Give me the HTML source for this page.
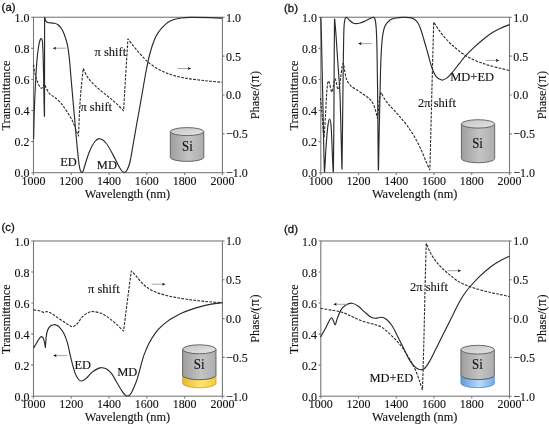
<!DOCTYPE html>
<html><head><meta charset="utf-8"><title>Transmittance and phase</title>
<style>
html,body{margin:0;padding:0;background:#fff;}
body{width:549px;height:425px;overflow:hidden;}
svg{display:block;}
.s{font-family:"Liberation Serif",serif;font-size:12.5px;fill:#111;stroke:#111;stroke-width:0.12;}
.t{font-family:"Liberation Serif",serif;font-size:12px;fill:#111;stroke:#111;stroke-width:0.12;}
.al{font-family:"Liberation Serif",serif;font-size:12.3px;fill:#111;stroke:#111;stroke-width:0.12;}
.p{font-family:"Liberation Sans",sans-serif;font-size:11.4px;fill:#111;stroke:#111;stroke-width:0.3;}
.ax{stroke:#787878;stroke-width:1.08;fill:none;}
.c{stroke:#2a2a2a;stroke-width:1.15;fill:none;stroke-linejoin:round;stroke-linecap:butt;}
.d{stroke:#2a2a2a;stroke-width:1.1;fill:none;stroke-dasharray:2.75 1.3;stroke-linejoin:round;}
.ar{stroke:#9a9a9a;stroke-width:0.9;fill:none;}
</style></head><body>
<svg width="549" height="425" viewBox="0 0 549 425">
<defs>
<linearGradient id="gb" x1="0" y1="0" x2="1" y2="0"><stop offset="0" stop-color="#9e9e9e"/><stop offset="0.55" stop-color="#c4c4c4"/><stop offset="1" stop-color="#adadad"/></linearGradient>
<linearGradient id="gt" x1="0" y1="0" x2="1" y2="1"><stop offset="0" stop-color="#c4c4c4"/><stop offset="1" stop-color="#e6e6e6"/></linearGradient>
<linearGradient id="gold" x1="0" y1="0" x2="1" y2="0"><stop offset="0" stop-color="#efb626"/><stop offset="0.55" stop-color="#ffe672"/><stop offset="1" stop-color="#f7c838"/></linearGradient>
<linearGradient id="blue" x1="0" y1="0" x2="1" y2="0"><stop offset="0" stop-color="#5c9be0"/><stop offset="0.55" stop-color="#bcdaf8"/><stop offset="1" stop-color="#70aae8"/></linearGradient>
</defs>
<rect width="549" height="425" fill="#fff"/>
<g id="panel-a" style="mix-blend-mode:multiply">
<path d="M170.30 131.60 L170.30 157.40 A16.75 4.00 0 0 0 203.80 157.40 L203.80 131.60 Z" fill="url(#gb)" stroke="#4c4c4c" stroke-width="0.8"/>
<ellipse cx="187.05" cy="131.60" rx="16.75" ry="4.00" fill="url(#gt)" stroke="#4c4c4c" stroke-width="0.8"/>
<text class="s" text-anchor="middle" style="font-size:13px" transform="translate(187.35 151.10) scale(1 1.070)">Si</text>
<rect class="ax" x="33.50" y="17.25" width="188.90" height="155.45"/>
<text class="t" text-anchor="middle" transform="translate(33.50 184.90) scale(1 1.070)">1000</text>
<text class="t" text-anchor="end" transform="translate(29.60 177.30) scale(1 1.070)">0.0</text>
<text class="t" text-anchor="middle" transform="translate(71.28 184.90) scale(1 1.070)">1200</text>
<text class="t" text-anchor="end" transform="translate(29.60 146.21) scale(1 1.070)">0.2</text>
<text class="t" text-anchor="middle" transform="translate(109.06 184.90) scale(1 1.070)">1400</text>
<text class="t" text-anchor="end" transform="translate(29.60 115.12) scale(1 1.070)">0.4</text>
<text class="t" text-anchor="middle" transform="translate(146.84 184.90) scale(1 1.070)">1600</text>
<text class="t" text-anchor="end" transform="translate(29.60 84.03) scale(1 1.070)">0.6</text>
<text class="t" text-anchor="middle" transform="translate(184.62 184.90) scale(1 1.070)">1800</text>
<text class="t" text-anchor="end" transform="translate(29.60 52.94) scale(1 1.070)">0.8</text>
<text class="t" text-anchor="middle" transform="translate(222.40 184.90) scale(1 1.070)">2000</text>
<text class="t" text-anchor="end" transform="translate(29.60 21.85) scale(1 1.070)">1.0</text>
<text class="t" transform="translate(226.10 177.10) scale(1 1.070)">−1.0</text>
<text class="t" transform="translate(226.10 138.24) scale(1 1.070)">−0.5</text>
<text class="t" transform="translate(226.10 99.38) scale(1 1.070)">0.0</text>
<text class="t" transform="translate(226.10 60.51) scale(1 1.070)">0.5</text>
<text class="t" transform="translate(226.10 21.65) scale(1 1.070)">1.0</text>
<path class="ax" d="M33.50 172.70v2.2M33.50 172.70h-2.2M71.28 172.70v2.2M33.50 141.61h-2.2M109.06 172.70v2.2M33.50 110.52h-2.2M146.84 172.70v2.2M33.50 79.43h-2.2M184.62 172.70v2.2M33.50 48.34h-2.2M222.40 172.70v2.2M33.50 17.25h-2.2M222.40 172.70h2.2M222.40 133.84h2.2M222.40 94.97h2.2M222.40 56.11h2.2M222.40 17.25h2.2"/>
<text class="al" text-anchor="middle" transform="translate(127.45 197.70) scale(1 1.070)">Wavelength (nm)</text>
<text class="al" transform="translate(10.40 95.57) rotate(-90)" text-anchor="middle">Transmittance</text>
<text class="al" transform="translate(259.00 94.77) rotate(-90)" text-anchor="middle">Phase/<tspan style="letter-spacing:0.5px">(<tspan style="font-size:14px">π</tspan>)</tspan></text>
<path class="d" d="M33.50 64.60 C33.70 65.83 34.18 69.48 34.70 72.00 C35.22 74.52 35.88 77.43 36.60 79.70 C37.32 81.97 38.23 84.18 39.00 85.60 C39.77 87.02 40.60 87.87 41.20 88.20 C41.80 88.53 42.20 88.03 42.60 87.60 C43.00 87.17 43.30 86.20 43.60 85.60 C43.90 85.00 44.27 84.27 44.40 84.00 L44.50 84.00 C44.65 84.37 45.02 85.33 45.40 86.20 C45.78 87.07 46.20 88.07 46.80 89.20 C47.40 90.33 48.25 92.00 49.00 93.00 C49.75 94.00 50.35 94.48 51.30 95.20 C52.25 95.92 53.20 96.10 54.70 97.30 C56.20 98.50 58.60 100.52 60.30 102.40 C62.00 104.28 63.38 106.43 64.90 108.60 C66.42 110.77 68.13 113.33 69.40 115.40 C70.67 117.47 71.42 118.62 72.50 121.00 C73.58 123.38 74.93 127.20 75.90 129.70 C76.87 132.20 77.90 134.95 78.30 136.00 L78.50 136.00 C78.78 130.00 79.42 111.23 80.20 100.00 C80.98 88.77 82.70 73.83 83.20 68.60 L83.30 68.60 C83.95 69.93 85.58 74.10 87.20 76.60 C88.82 79.10 90.87 81.37 93.00 83.60 C95.13 85.83 97.83 88.13 100.00 90.00 C102.17 91.87 104.00 93.18 106.00 94.80 C108.00 96.42 110.17 98.13 112.00 99.70 C113.83 101.27 115.08 102.37 117.00 104.20 C118.92 106.03 122.42 109.62 123.50 110.70 L123.60 110.70 C123.92 105.25 124.78 89.95 125.50 78.00 C126.22 66.05 127.50 45.50 127.90 39.00 L128.10 39.00 C128.97 40.13 131.50 43.53 133.30 45.80 C135.10 48.07 137.02 50.43 138.90 52.60 C140.78 54.77 143.12 57.23 144.60 58.80 C146.08 60.37 145.92 60.52 147.80 62.00 C149.68 63.48 153.20 66.05 155.90 67.70 C158.60 69.35 161.65 70.82 164.00 71.90 C166.35 72.98 168.00 73.50 170.00 74.20 C172.00 74.90 173.83 75.52 176.00 76.10 C178.17 76.68 180.67 77.23 183.00 77.70 C185.33 78.17 187.00 78.48 190.00 78.90 C193.00 79.32 197.67 79.82 201.00 80.20 C204.33 80.58 206.43 80.85 210.00 81.20 C213.57 81.55 220.33 82.12 222.40 82.30"/>
<path class="c" d="M33.60 139.00 C33.70 134.83 33.92 122.67 34.20 114.00 C34.48 105.33 34.85 95.83 35.30 87.00 C35.75 78.17 36.37 67.67 36.90 61.00 C37.43 54.33 37.98 50.47 38.50 47.00 C39.02 43.53 39.50 41.60 40.00 40.20 C40.50 38.80 41.08 38.30 41.50 38.60 C41.92 38.90 42.23 39.27 42.50 42.00 C42.77 44.73 42.92 49.50 43.10 55.00 C43.28 60.50 43.45 67.50 43.60 75.00 C43.75 82.50 43.87 93.17 44.00 100.00 C44.13 106.83 44.33 113.33 44.40 116.00 L44.50 116.30 L44.60 17.40 L44.80 17.50 C44.92 17.95 45.18 19.45 45.50 20.20 C45.82 20.95 46.15 21.58 46.70 22.00 C47.25 22.42 47.50 22.50 48.80 22.70 C50.10 22.90 52.97 22.87 54.50 23.20 C56.03 23.53 56.82 23.77 58.00 24.70 C59.18 25.63 60.55 27.17 61.60 28.80 C62.65 30.43 63.37 31.98 64.30 34.50 C65.23 37.02 66.38 40.15 67.20 43.90 C68.02 47.65 68.53 50.98 69.20 57.00 C69.87 63.02 70.37 70.50 71.20 80.00 C72.03 89.50 73.30 103.83 74.20 114.00 C75.10 124.17 75.80 132.67 76.60 141.00 C77.40 149.33 78.33 159.00 79.00 164.00 C79.67 169.00 80.13 169.60 80.60 171.00 C81.07 172.40 81.37 172.40 81.80 172.40 C82.23 172.40 82.70 172.15 83.20 171.00 C83.70 169.85 83.78 168.67 84.80 165.50 C85.82 162.33 87.62 156.00 89.30 152.00 C90.98 148.00 93.15 143.72 94.90 141.50 C96.65 139.28 97.95 138.45 99.80 138.70 C101.65 138.95 103.83 140.38 106.00 143.00 C108.17 145.62 110.73 150.65 112.80 154.40 C114.87 158.15 116.95 162.82 118.40 165.50 C119.85 168.18 120.53 169.35 121.50 170.50 C122.47 171.65 123.32 172.40 124.20 172.40 C125.08 172.40 125.83 172.23 126.80 170.50 C127.77 168.77 128.90 166.58 130.00 162.00 C131.10 157.42 132.28 149.33 133.40 143.00 C134.52 136.67 135.63 130.00 136.70 124.00 C137.77 118.00 138.93 111.83 139.80 107.00 C140.67 102.17 140.82 101.17 141.90 95.00 C142.98 88.83 144.98 76.83 146.30 70.00 C147.62 63.17 148.47 59.00 149.80 54.00 C151.13 49.00 152.83 43.67 154.30 40.00 C155.77 36.33 157.22 34.13 158.60 32.00 C159.98 29.87 161.03 28.82 162.60 27.20 C164.17 25.58 166.10 23.58 168.00 22.30 C169.90 21.02 171.83 20.22 174.00 19.50 C176.17 18.78 178.33 18.35 181.00 18.00 C183.67 17.65 185.17 17.47 190.00 17.40 C194.83 17.33 204.57 17.45 210.00 17.60 C215.43 17.75 220.50 18.18 222.60 18.30"/>
<path class="ar" d="M65.80 48.20H55.50"/>
<path d="M52.80 48.20l3.40 -1.55l-0.70 1.55l0.70 1.55z" fill="#0c0c0c"/>
<path class="ar" d="M177.70 68.50H188.50"/>
<path d="M191.20 68.50l-3.40 -1.55l0.70 1.55l-0.70 1.55z" fill="#0c0c0c"/>
<text class="s" transform="translate(94.50 56.20) scale(1 1.070)">π shift</text>
<text class="s" transform="translate(80.40 110.70) scale(1 1.070)">π shift</text>
<text class="s" transform="translate(60.20 165.50) scale(1 1.070)">ED</text>
<text class="s" transform="translate(96.80 168.60) scale(1 1.070)">MD</text>
<text class="p" x="1.60" y="10.60">(a)</text>
</g>
<g id="panel-b" style="mix-blend-mode:multiply">
<path d="M461.40 123.90 L461.40 158.60 A16.65 4.20 0 0 0 494.70 158.60 L494.70 123.90 Z" fill="url(#gb)" stroke="#4c4c4c" stroke-width="0.8"/>
<ellipse cx="478.05" cy="123.90" rx="16.65" ry="4.20" fill="url(#gt)" stroke="#4c4c4c" stroke-width="0.8"/>
<text class="s" text-anchor="middle" style="font-size:13px" transform="translate(477.55 148.15) scale(1 1.070)">Si</text>
<rect class="ax" x="320.80" y="17.25" width="188.70" height="155.45"/>
<text class="t" text-anchor="middle" transform="translate(320.80 184.90) scale(1 1.070)">1000</text>
<text class="t" text-anchor="end" transform="translate(316.90 177.30) scale(1 1.070)">0.0</text>
<text class="t" text-anchor="middle" transform="translate(358.54 184.90) scale(1 1.070)">1200</text>
<text class="t" text-anchor="end" transform="translate(316.90 146.21) scale(1 1.070)">0.2</text>
<text class="t" text-anchor="middle" transform="translate(396.28 184.90) scale(1 1.070)">1400</text>
<text class="t" text-anchor="end" transform="translate(316.90 115.12) scale(1 1.070)">0.4</text>
<text class="t" text-anchor="middle" transform="translate(434.02 184.90) scale(1 1.070)">1600</text>
<text class="t" text-anchor="end" transform="translate(316.90 84.03) scale(1 1.070)">0.6</text>
<text class="t" text-anchor="middle" transform="translate(471.76 184.90) scale(1 1.070)">1800</text>
<text class="t" text-anchor="end" transform="translate(316.90 52.94) scale(1 1.070)">0.8</text>
<text class="t" text-anchor="middle" transform="translate(509.50 184.90) scale(1 1.070)">2000</text>
<text class="t" text-anchor="end" transform="translate(316.90 21.85) scale(1 1.070)">1.0</text>
<text class="t" transform="translate(513.20 177.10) scale(1 1.070)">−1.0</text>
<text class="t" transform="translate(513.20 138.24) scale(1 1.070)">−0.5</text>
<text class="t" transform="translate(513.20 99.38) scale(1 1.070)">0.0</text>
<text class="t" transform="translate(513.20 60.51) scale(1 1.070)">0.5</text>
<text class="t" transform="translate(513.20 21.65) scale(1 1.070)">1.0</text>
<path class="ax" d="M320.80 172.70v2.2M320.80 172.70h-2.2M358.54 172.70v2.2M320.80 141.61h-2.2M396.28 172.70v2.2M320.80 110.52h-2.2M434.02 172.70v2.2M320.80 79.43h-2.2M471.76 172.70v2.2M320.80 48.34h-2.2M509.50 172.70v2.2M320.80 17.25h-2.2M509.50 172.70h2.2M509.50 133.84h2.2M509.50 94.97h2.2M509.50 56.11h2.2M509.50 17.25h2.2"/>
<text class="al" text-anchor="middle" transform="translate(414.65 197.70) scale(1 1.070)">Wavelength (nm)</text>
<text class="al" transform="translate(297.70 95.57) rotate(-90)" text-anchor="middle">Transmittance</text>
<text class="al" transform="translate(546.10 94.77) rotate(-90)" text-anchor="middle">Phase/<tspan style="letter-spacing:0.5px">(<tspan style="font-size:14px">π</tspan>)</tspan></text>
<path class="d" d="M320.50 98.00 C320.63 99.33 321.02 102.83 321.30 106.00 C321.58 109.17 321.88 113.00 322.20 117.00 C322.52 121.00 322.92 126.57 323.20 130.00 C323.48 133.43 323.78 136.33 323.90 137.60 L324.10 137.60 C324.32 134.17 324.98 124.10 325.40 117.00 C325.82 109.90 326.23 100.50 326.60 95.00 C326.97 89.50 327.30 86.33 327.60 84.00 C327.90 81.67 328.07 81.08 328.40 81.00 C328.73 80.92 329.17 82.00 329.60 83.50 C330.03 85.00 330.60 88.58 331.00 90.00 C331.40 91.42 331.63 92.42 332.00 92.00 C332.37 91.58 332.80 89.42 333.20 87.50 C333.60 85.58 334.07 81.92 334.40 80.50 C334.73 79.08 334.90 78.75 335.20 79.00 C335.50 79.25 335.83 80.50 336.20 82.00 C336.57 83.50 337.00 86.83 337.40 88.00 C337.80 89.17 338.20 89.67 338.60 89.00 C339.00 88.33 339.40 86.33 339.80 84.00 C340.20 81.67 340.60 78.00 341.00 75.00 C341.40 72.00 341.83 67.95 342.20 66.00 C342.57 64.05 343.03 63.75 343.20 63.30 L343.40 63.30 C343.55 64.17 343.97 66.63 344.30 68.50 C344.63 70.37 344.95 72.50 345.40 74.50 C345.85 76.50 346.07 78.58 347.00 80.50 C347.93 82.42 349.33 84.42 351.00 86.00 C352.67 87.58 355.00 88.67 357.00 90.00 C359.00 91.33 361.17 92.75 363.00 94.00 C364.83 95.25 366.58 96.33 368.00 97.50 C369.42 98.67 370.42 99.42 371.50 101.00 C372.58 102.58 373.68 104.83 374.50 107.00 C375.32 109.17 375.92 112.17 376.40 114.00 C376.88 115.83 377.23 117.33 377.40 118.00 L377.60 118.00 C377.77 116.33 378.23 111.50 378.60 108.00 C378.97 104.50 379.40 99.57 379.80 97.00 C380.20 94.43 380.80 93.33 381.00 92.60 L381.20 92.80 C381.87 94.00 383.78 97.87 385.20 100.00 C386.62 102.13 388.32 104.00 389.70 105.60 C391.08 107.20 391.83 107.77 393.50 109.60 C395.17 111.43 397.45 113.97 399.70 116.60 C401.95 119.23 404.55 122.07 407.00 125.40 C409.45 128.73 412.10 132.67 414.40 136.60 C416.70 140.53 418.90 144.93 420.80 149.00 C422.70 153.07 424.32 157.57 425.80 161.00 C427.28 164.43 429.05 168.17 429.70 169.60 L429.90 169.60 C430.23 156.33 431.27 114.57 431.90 90.00 C432.53 65.43 433.40 33.50 433.70 22.20 L433.80 22.20 C434.48 23.27 436.28 26.30 437.90 28.60 C439.52 30.90 441.62 33.72 443.50 36.00 C445.38 38.28 447.37 40.45 449.20 42.30 C451.03 44.15 452.70 45.53 454.50 47.10 C456.30 48.67 458.17 50.28 460.00 51.70 C461.83 53.12 463.63 54.45 465.50 55.60 C467.37 56.75 469.32 57.67 471.20 58.60 C473.08 59.53 474.92 60.43 476.80 61.20 C478.68 61.97 480.63 62.55 482.50 63.20 C484.37 63.85 485.08 64.25 488.00 65.10 C490.92 65.95 496.42 67.40 500.00 68.30 C503.58 69.20 507.92 70.13 509.50 70.50"/>
<path class="c" d="M320.80 17.40 C320.92 21.17 321.20 27.90 321.50 40.00 C321.80 52.10 322.25 73.33 322.60 90.00 C322.95 106.67 323.33 127.50 323.60 140.00 C323.87 152.50 324.05 159.67 324.20 165.00 C324.35 170.33 324.45 170.83 324.50 172.00 L324.60 172.00 C324.72 170.00 325.00 165.03 325.30 160.00 C325.60 154.97 325.95 147.63 326.40 141.80 C326.85 135.97 327.47 128.80 328.00 125.00 C328.53 121.20 329.10 119.00 329.60 119.00 C330.10 119.00 330.63 121.50 331.00 125.00 C331.37 128.50 331.53 134.17 331.80 140.00 C332.07 145.83 332.37 154.67 332.60 160.00 C332.83 165.33 333.10 170.00 333.20 172.00 L333.40 172.00 C333.48 163.33 333.77 138.67 333.90 120.00 C334.03 101.33 334.10 76.83 334.20 60.00 C334.30 43.17 334.45 25.83 334.50 19.00 L334.70 19.00 C334.92 21.67 335.45 27.33 336.00 35.00 C336.55 42.67 337.33 55.00 338.00 65.00 C338.67 75.00 339.47 82.50 340.00 95.00 C340.53 107.50 340.88 127.67 341.20 140.00 C341.52 152.33 341.78 164.17 341.90 169.00 L342.00 169.00 C342.08 162.50 342.30 146.50 342.50 130.00 C342.70 113.50 342.97 86.67 343.20 70.00 C343.43 53.33 343.62 38.42 343.90 30.00 C344.18 21.58 344.55 21.60 344.90 19.50 C345.25 17.40 345.48 17.55 346.00 17.40 C346.52 17.25 347.33 18.03 348.00 18.60 C348.67 19.17 349.17 20.07 350.00 20.80 C350.83 21.53 352.00 22.53 353.00 23.00 C354.00 23.47 354.83 23.60 356.00 23.60 C357.17 23.60 358.67 23.33 360.00 23.00 C361.33 22.67 362.50 22.27 364.00 21.60 C365.50 20.93 367.67 19.65 369.00 19.00 C370.33 18.35 371.23 17.97 372.00 17.70 C372.77 17.43 373.10 17.18 373.60 17.40 C374.10 17.62 374.57 17.23 375.00 19.00 C375.43 20.77 375.87 22.83 376.20 28.00 C376.53 33.17 376.77 39.67 377.00 50.00 C377.23 60.33 377.43 75.00 377.60 90.00 C377.77 105.00 377.88 126.67 378.00 140.00 C378.12 153.33 378.25 165.00 378.30 170.00 L378.50 170.00 C378.62 163.33 378.95 142.50 379.20 130.00 C379.45 117.50 379.77 105.33 380.00 95.00 C380.23 84.67 380.37 75.50 380.60 68.00 C380.83 60.50 381.07 55.33 381.40 50.00 C381.73 44.67 382.00 40.00 382.60 36.00 C383.20 32.00 383.77 28.67 385.00 26.00 C386.23 23.33 388.17 21.33 390.00 20.00 C391.83 18.67 394.00 18.43 396.00 18.00 C398.00 17.57 399.67 17.47 402.00 17.40 C404.33 17.33 408.00 17.33 410.00 17.60 C412.00 17.87 412.67 18.10 414.00 19.00 C415.33 19.90 416.83 21.17 418.00 23.00 C419.17 24.83 420.00 27.17 421.00 30.00 C422.00 32.83 422.83 36.00 424.00 40.00 C425.17 44.00 426.67 49.33 428.00 54.00 C429.33 58.67 430.67 64.28 432.00 68.00 C433.33 71.72 434.40 74.30 436.00 76.30 C437.60 78.30 439.88 79.65 441.60 80.00 C443.32 80.35 444.57 79.60 446.30 78.40 C448.03 77.20 449.73 75.40 452.00 72.80 C454.27 70.20 457.65 65.62 459.90 62.80 C462.15 59.98 463.23 58.38 465.50 55.90 C467.77 53.42 470.67 50.55 473.50 47.90 C476.33 45.25 479.58 42.38 482.50 40.00 C485.42 37.62 488.08 35.50 491.00 33.60 C493.92 31.70 496.92 30.10 500.00 28.60 C503.08 27.10 507.92 25.27 509.50 24.60"/>
<path class="ar" d="M372.00 43.60H360.90"/>
<path d="M358.20 43.60l3.40 -1.55l-0.70 1.55l0.70 1.55z" fill="#0c0c0c"/>
<path class="ar" d="M485.60 60.40H496.50"/>
<path d="M499.20 60.40l-3.40 -1.55l0.70 1.55l-0.70 1.55z" fill="#0c0c0c"/>
<text class="s" transform="translate(450.20 81.20) scale(1 1.070)">MD+ED</text>
<text class="s" transform="translate(418.00 106.90) scale(1 1.070)">2π shift</text>
<text class="p" x="284.00" y="12.00">(b)</text>
</g>
<g id="panel-c" style="mix-blend-mode:multiply">
<path d="M182.60 375.20 L182.60 383.30 A16.70 4.50 0 0 0 216.00 383.30 L216.00 375.20 A16.70 4.50 0 0 1 182.60 375.20 Z" fill="url(#gold)" stroke="#c2962a" stroke-width="0.7"/>
<path d="M182.60 349.30 L182.60 375.20 A16.70 4.50 0 0 0 216.00 375.20 L216.00 349.30 Z" fill="url(#gb)" stroke="#4c4c4c" stroke-width="0.8"/>
<ellipse cx="199.30" cy="349.30" rx="16.70" ry="4.50" fill="url(#gt)" stroke="#4c4c4c" stroke-width="0.8"/>
<text class="s" text-anchor="middle" style="font-size:13px" transform="translate(199.10 368.65) scale(1 1.070)">Si</text>
<rect class="ax" x="33.50" y="241.00" width="188.90" height="155.20"/>
<text class="t" text-anchor="middle" transform="translate(33.50 408.40) scale(1 1.070)">1000</text>
<text class="t" text-anchor="end" transform="translate(29.60 400.80) scale(1 1.070)">0.0</text>
<text class="t" text-anchor="middle" transform="translate(71.28 408.40) scale(1 1.070)">1200</text>
<text class="t" text-anchor="end" transform="translate(29.60 369.76) scale(1 1.070)">0.2</text>
<text class="t" text-anchor="middle" transform="translate(109.06 408.40) scale(1 1.070)">1400</text>
<text class="t" text-anchor="end" transform="translate(29.60 338.72) scale(1 1.070)">0.4</text>
<text class="t" text-anchor="middle" transform="translate(146.84 408.40) scale(1 1.070)">1600</text>
<text class="t" text-anchor="end" transform="translate(29.60 307.68) scale(1 1.070)">0.6</text>
<text class="t" text-anchor="middle" transform="translate(184.62 408.40) scale(1 1.070)">1800</text>
<text class="t" text-anchor="end" transform="translate(29.60 276.64) scale(1 1.070)">0.8</text>
<text class="t" text-anchor="middle" transform="translate(222.40 408.40) scale(1 1.070)">2000</text>
<text class="t" text-anchor="end" transform="translate(29.60 245.60) scale(1 1.070)">1.0</text>
<text class="t" transform="translate(226.10 400.60) scale(1 1.070)">−1.0</text>
<text class="t" transform="translate(226.10 361.80) scale(1 1.070)">−0.5</text>
<text class="t" transform="translate(226.10 323.00) scale(1 1.070)">0.0</text>
<text class="t" transform="translate(226.10 284.20) scale(1 1.070)">0.5</text>
<text class="t" transform="translate(226.10 245.40) scale(1 1.070)">1.0</text>
<path class="ax" d="M33.50 396.20v2.2M33.50 396.20h-2.2M71.28 396.20v2.2M33.50 365.16h-2.2M109.06 396.20v2.2M33.50 334.12h-2.2M146.84 396.20v2.2M33.50 303.08h-2.2M184.62 396.20v2.2M33.50 272.04h-2.2M222.40 396.20v2.2M33.50 241.00h-2.2M222.40 396.20h2.2M222.40 357.40h2.2M222.40 318.60h2.2M222.40 279.80h2.2M222.40 241.00h2.2"/>
<text class="al" text-anchor="middle" transform="translate(127.45 421.20) scale(1 1.070)">Wavelength (nm)</text>
<text class="al" transform="translate(10.40 319.20) rotate(-90)" text-anchor="middle">Transmittance</text>
<text class="al" transform="translate(259.00 318.40) rotate(-90)" text-anchor="middle">Phase/<tspan style="letter-spacing:0.5px">(<tspan style="font-size:14px">π</tspan>)</tspan></text>
<path class="d" d="M33.50 309.90 C34.65 310.10 38.65 310.68 40.40 311.10 C42.15 311.52 42.98 312.32 44.00 312.40 C45.02 312.48 45.67 311.63 46.50 311.60 C47.33 311.57 47.97 311.75 49.00 312.20 C50.03 312.65 50.87 313.12 52.70 314.30 C54.53 315.48 57.53 317.65 60.00 319.30 C62.47 320.95 65.42 322.97 67.50 324.20 C69.58 325.43 70.85 326.82 72.50 326.70 C74.15 326.58 75.77 325.15 77.40 323.50 C79.03 321.85 80.45 318.65 82.30 316.80 C84.15 314.95 86.63 313.27 88.50 312.40 C90.37 311.53 91.25 311.40 93.50 311.60 C95.75 311.80 99.33 312.45 102.00 313.60 C104.67 314.75 107.00 316.65 109.50 318.50 C112.00 320.35 114.68 322.63 117.00 324.70 C119.32 326.77 122.33 329.87 123.40 330.90 L123.60 330.90 C123.93 328.22 124.87 320.62 125.60 314.80 C126.33 308.98 127.05 303.30 128.00 296.00 C128.95 288.70 130.75 275.17 131.30 271.00 L131.50 271.00 C132.25 271.80 134.22 273.77 136.00 275.80 C137.78 277.83 140.12 281.10 142.20 283.20 C144.28 285.30 146.05 286.83 148.50 288.40 C150.95 289.97 153.75 291.38 156.90 292.60 C160.05 293.82 163.92 294.83 167.40 295.70 C170.88 296.57 174.32 297.17 177.80 297.80 C181.28 298.43 184.80 299.00 188.30 299.50 C191.80 300.00 195.30 300.42 198.80 300.80 C202.30 301.18 205.33 301.48 209.30 301.80 C213.27 302.12 220.38 302.55 222.60 302.70"/>
<path class="c" d="M33.50 348.20 C34.23 346.97 36.82 342.57 37.90 340.80 C38.98 339.03 39.35 338.30 40.00 337.60 C40.65 336.90 41.23 336.43 41.80 336.60 C42.37 336.77 42.93 337.53 43.40 338.60 C43.87 339.67 44.28 341.53 44.60 343.00 C44.92 344.47 45.18 346.67 45.30 347.40 L45.40 347.40 C45.53 345.67 45.90 339.65 46.20 337.00 C46.50 334.35 46.73 333.05 47.20 331.50 C47.67 329.95 48.28 328.73 49.00 327.70 C49.72 326.67 50.67 325.80 51.50 325.30 C52.33 324.80 53.17 324.72 54.00 324.70 C54.83 324.68 55.68 324.87 56.50 325.20 C57.32 325.53 57.68 325.35 58.90 326.70 C60.12 328.05 62.37 330.55 63.80 333.30 C65.23 336.05 66.27 338.87 67.50 343.20 C68.73 347.53 69.95 354.35 71.20 359.30 C72.45 364.25 73.77 369.53 75.00 372.90 C76.23 376.27 77.50 378.15 78.60 379.50 C79.70 380.85 80.37 381.15 81.60 381.00 C82.83 380.85 84.23 380.08 86.00 378.60 C87.77 377.12 90.13 373.80 92.20 372.10 C94.27 370.40 96.75 369.13 98.40 368.40 C100.05 367.67 100.67 367.57 102.10 367.70 C103.53 367.83 105.35 368.13 107.00 369.20 C108.65 370.27 110.33 371.83 112.00 374.10 C113.67 376.37 115.30 379.92 117.00 382.80 C118.70 385.68 120.85 389.37 122.20 391.40 C123.55 393.43 124.20 394.23 125.10 395.00 C126.00 395.77 126.77 396.07 127.60 396.00 C128.43 395.93 129.27 395.52 130.10 394.60 C130.93 393.68 131.43 393.03 132.60 390.50 C133.77 387.97 135.63 383.87 137.10 379.40 C138.57 374.93 140.30 367.62 141.40 363.70 C142.50 359.78 142.90 358.27 143.70 355.90 C144.50 353.53 145.35 351.53 146.20 349.50 C147.05 347.47 147.90 345.48 148.80 343.70 C149.70 341.92 150.65 340.37 151.60 338.80 C152.55 337.23 153.55 335.65 154.50 334.30 C155.45 332.95 156.37 331.80 157.30 330.70 C158.23 329.60 159.00 328.80 160.10 327.70 C161.20 326.60 162.63 325.20 163.90 324.10 C165.17 323.00 166.28 322.12 167.70 321.10 C169.12 320.08 170.83 318.95 172.40 318.00 C173.97 317.05 175.53 316.22 177.10 315.40 C178.67 314.58 180.23 313.82 181.80 313.10 C183.37 312.38 184.15 311.97 186.50 311.10 C188.85 310.23 192.77 308.85 195.90 307.90 C199.03 306.95 202.17 306.12 205.30 305.40 C208.43 304.68 211.85 304.05 214.70 303.60 C217.55 303.15 221.12 302.85 222.40 302.70"/>
<path class="ar" d="M67.00 355.60H55.90"/>
<path d="M53.20 355.60l3.40 -1.55l-0.70 1.55l0.70 1.55z" fill="#0c0c0c"/>
<path class="ar" d="M151.70 284.20H162.80"/>
<path d="M165.50 284.20l-3.40 -1.55l0.70 1.55l-0.70 1.55z" fill="#0c0c0c"/>
<text class="s" transform="translate(88.00 293.00) scale(1 1.070)">π shift</text>
<text class="s" transform="translate(74.40 368.70) scale(1 1.070)">ED</text>
<text class="s" transform="translate(117.20 375.50) scale(1 1.070)">MD</text>
<text class="p" x="1.50" y="230.60">(c)</text>
</g>
<g id="panel-d" style="mix-blend-mode:multiply">
<path d="M460.90 375.20 L460.90 383.30 A16.70 4.40 0 0 0 494.30 383.30 L494.30 375.20 A16.70 4.40 0 0 1 460.90 375.20 Z" fill="url(#blue)" stroke="#4a7fc0" stroke-width="0.7"/>
<path d="M460.90 349.70 L460.90 375.20 A16.70 4.40 0 0 0 494.30 375.20 L494.30 349.70 Z" fill="url(#gb)" stroke="#4c4c4c" stroke-width="0.8"/>
<ellipse cx="477.60" cy="349.70" rx="16.70" ry="4.40" fill="url(#gt)" stroke="#4c4c4c" stroke-width="0.8"/>
<text class="s" text-anchor="middle" style="font-size:13px" transform="translate(477.40 368.70) scale(1 1.070)">Si</text>
<rect class="ax" x="320.80" y="241.00" width="188.70" height="155.20"/>
<text class="t" text-anchor="middle" transform="translate(320.80 408.40) scale(1 1.070)">1000</text>
<text class="t" text-anchor="end" transform="translate(316.90 400.80) scale(1 1.070)">0.0</text>
<text class="t" text-anchor="middle" transform="translate(358.54 408.40) scale(1 1.070)">1200</text>
<text class="t" text-anchor="end" transform="translate(316.90 369.76) scale(1 1.070)">0.2</text>
<text class="t" text-anchor="middle" transform="translate(396.28 408.40) scale(1 1.070)">1400</text>
<text class="t" text-anchor="end" transform="translate(316.90 338.72) scale(1 1.070)">0.4</text>
<text class="t" text-anchor="middle" transform="translate(434.02 408.40) scale(1 1.070)">1600</text>
<text class="t" text-anchor="end" transform="translate(316.90 307.68) scale(1 1.070)">0.6</text>
<text class="t" text-anchor="middle" transform="translate(471.76 408.40) scale(1 1.070)">1800</text>
<text class="t" text-anchor="end" transform="translate(316.90 276.64) scale(1 1.070)">0.8</text>
<text class="t" text-anchor="middle" transform="translate(509.50 408.40) scale(1 1.070)">2000</text>
<text class="t" text-anchor="end" transform="translate(316.90 245.60) scale(1 1.070)">1.0</text>
<text class="t" transform="translate(513.20 400.60) scale(1 1.070)">−1.0</text>
<text class="t" transform="translate(513.20 361.80) scale(1 1.070)">−0.5</text>
<text class="t" transform="translate(513.20 323.00) scale(1 1.070)">0.0</text>
<text class="t" transform="translate(513.20 284.20) scale(1 1.070)">0.5</text>
<text class="t" transform="translate(513.20 245.40) scale(1 1.070)">1.0</text>
<path class="ax" d="M320.80 396.20v2.2M320.80 396.20h-2.2M358.54 396.20v2.2M320.80 365.16h-2.2M396.28 396.20v2.2M320.80 334.12h-2.2M434.02 396.20v2.2M320.80 303.08h-2.2M471.76 396.20v2.2M320.80 272.04h-2.2M509.50 396.20v2.2M320.80 241.00h-2.2M509.50 396.20h2.2M509.50 357.40h2.2M509.50 318.60h2.2M509.50 279.80h2.2M509.50 241.00h2.2"/>
<text class="al" text-anchor="middle" transform="translate(414.65 421.20) scale(1 1.070)">Wavelength (nm)</text>
<text class="al" transform="translate(297.70 319.20) rotate(-90)" text-anchor="middle">Transmittance</text>
<text class="al" transform="translate(546.10 318.40) rotate(-90)" text-anchor="middle">Phase/<tspan style="letter-spacing:0.5px">(<tspan style="font-size:14px">π</tspan>)</tspan></text>
<path class="d" d="M320.50 308.20 C322.05 308.48 326.60 309.33 329.80 309.90 C333.00 310.47 336.80 310.87 339.70 311.60 C342.60 312.33 344.72 313.27 347.20 314.30 C349.68 315.33 351.72 316.55 354.60 317.80 C357.48 319.05 361.20 320.70 364.50 321.80 C367.80 322.90 371.52 323.50 374.40 324.40 C377.28 325.30 379.33 325.70 381.80 327.20 C384.27 328.70 386.73 331.13 389.20 333.40 C391.67 335.67 394.33 338.33 396.60 340.80 C398.87 343.27 400.73 345.32 402.80 348.20 C404.87 351.08 407.15 355.00 409.00 358.10 C410.85 361.20 412.47 363.92 413.90 366.80 C415.33 369.68 416.57 372.72 417.60 375.40 C418.63 378.08 419.33 380.57 420.10 382.90 C420.87 385.23 421.85 388.32 422.20 389.40 L422.50 389.40 C422.73 381.17 423.48 356.57 423.90 340.00 C424.32 323.43 424.62 306.07 425.00 290.00 C425.38 273.93 426.00 251.33 426.20 243.60 L426.40 243.60 C426.90 244.78 428.15 248.20 429.40 250.70 C430.65 253.20 432.22 256.15 433.90 258.60 C435.58 261.05 437.62 263.33 439.50 265.40 C441.38 267.47 443.32 269.28 445.20 271.00 C447.08 272.72 448.73 274.03 450.80 275.70 C452.87 277.37 455.52 279.62 457.60 281.00 C459.68 282.38 461.22 283.05 463.30 284.00 C465.38 284.95 467.28 285.72 470.10 286.70 C472.92 287.68 476.63 288.90 480.20 289.90 C483.77 290.90 488.10 291.92 491.50 292.70 C494.90 293.48 497.60 293.97 500.60 294.60 C503.60 295.23 508.02 296.18 509.50 296.50"/>
<path class="c" d="M320.50 337.10 C321.43 335.45 324.55 330.08 326.10 327.20 C327.65 324.32 328.85 321.37 329.80 319.80 C330.75 318.23 331.18 317.60 331.80 317.80 C332.42 318.00 332.92 319.85 333.50 321.00 C334.08 322.15 334.67 325.12 335.30 324.70 C335.93 324.28 336.35 320.97 337.30 318.50 C338.25 316.03 339.57 312.15 341.00 309.90 C342.43 307.65 344.05 306.12 345.90 305.00 C347.75 303.88 350.03 303.00 352.10 303.20 C354.17 303.40 356.23 304.75 358.30 306.20 C360.37 307.65 362.43 310.10 364.50 311.90 C366.57 313.70 368.85 315.93 370.70 317.00 C372.55 318.07 373.75 318.25 375.60 318.30 C377.45 318.35 379.92 317.05 381.80 317.30 C383.68 317.55 385.17 318.35 386.90 319.80 C388.63 321.25 390.45 323.32 392.20 326.00 C393.95 328.68 395.70 332.60 397.40 335.90 C399.10 339.20 400.57 342.10 402.40 345.80 C404.23 349.50 406.63 354.93 408.40 358.10 C410.17 361.27 411.47 363.02 413.00 364.80 C414.53 366.58 416.20 367.98 417.60 368.80 C419.00 369.62 420.17 369.83 421.40 369.70 C422.63 369.57 423.57 369.52 425.00 368.00 C426.43 366.48 428.48 363.18 430.00 360.60 C431.52 358.02 432.30 356.08 434.10 352.50 C435.90 348.92 438.57 343.57 440.80 339.10 C443.03 334.63 445.27 330.18 447.50 325.70 C449.73 321.22 452.42 315.78 454.20 312.20 C455.98 308.62 456.68 306.98 458.20 304.20 C459.72 301.42 461.32 298.45 463.30 295.50 C465.28 292.55 467.28 289.78 470.10 286.50 C472.92 283.22 476.63 279.18 480.20 275.80 C483.77 272.42 488.10 268.75 491.50 266.20 C494.90 263.65 497.60 262.15 500.60 260.50 C503.60 258.85 508.02 257.00 509.50 256.30"/>
<path class="ar" d="M347.00 304.30H336.00"/>
<path d="M333.30 304.30l3.40 -1.55l-0.70 1.55l0.70 1.55z" fill="#0c0c0c"/>
<path class="ar" d="M447.50 270.70H458.50"/>
<path d="M461.20 270.70l-3.40 -1.55l0.70 1.55l-0.70 1.55z" fill="#0c0c0c"/>
<text class="s" transform="translate(410.00 290.70) scale(1 1.070)">2π shift</text>
<text class="s" transform="translate(369.40 381.60) scale(1 1.070)">MD+ED</text>
<text class="p" x="284.00" y="232.90">(d)</text>
</g>
</svg>
</body></html>
